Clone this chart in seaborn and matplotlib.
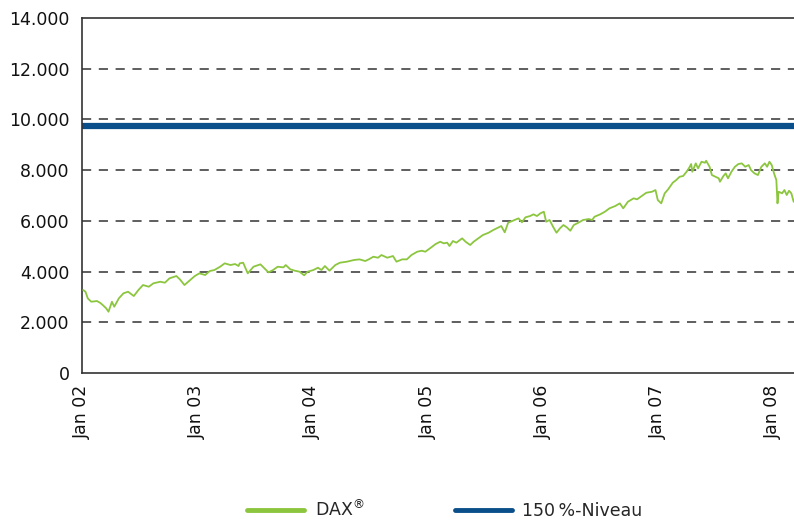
import pandas as pd
import numpy as np
import seaborn as sns
import matplotlib.dates as mdates
from matplotlib import pyplot as plt
from matplotlib.ticker import FuncFormatter

# DAX (decimal year, index points)
dax_years = [
    2002.01, 2002.03, 2002.05, 2002.08, 2002.13, 2002.16, 2002.18, 2002.21, 2002.23, 2002.26,
    2002.28, 2002.32, 2002.36, 2002.40, 2002.45, 2002.49, 2002.53, 2002.58, 2002.62, 2002.68,
    2002.72, 2002.76, 2002.82, 2002.85, 2002.89, 2002.94, 2002.98, 2003.02, 2003.07, 2003.11,
    2003.15, 2003.20, 2003.24, 2003.29, 2003.33, 2003.36, 2003.37, 2003.40, 2003.44, 2003.49,
    2003.55, 2003.62, 2003.66, 2003.70, 2003.75, 2003.77, 2003.81, 2003.85, 2003.89, 2003.93,
    2003.96, 2004.01, 2004.05, 2004.08, 2004.11, 2004.15, 2004.20, 2004.24, 2004.30, 2004.36,
    2004.41, 2004.46, 2004.49, 2004.53, 2004.57, 2004.60, 2004.65, 2004.70, 2004.73, 2004.78,
    2004.82, 2004.86, 2004.91, 2004.95, 2004.98, 2005.02, 2005.07, 2005.11, 2005.14, 2005.17,
    2005.19, 2005.22, 2005.25, 2005.30, 2005.33, 2005.37, 2005.40, 2005.44, 2005.48, 2005.53,
    2005.57, 2005.61, 2005.64, 2005.67, 2005.70, 2005.74, 2005.79, 2005.82, 2005.85, 2005.89,
    2005.92, 2005.95, 2005.98, 2006.01, 2006.03, 2006.06, 2006.09, 2006.12, 2006.15, 2006.18,
    2006.21, 2006.24, 2006.27, 2006.31, 2006.35, 2006.40, 2006.43, 2006.45, 2006.50, 2006.54,
    2006.58, 2006.63, 2006.67, 2006.70, 2006.74, 2006.79, 2006.82, 2006.86, 2006.90, 2006.95,
    2006.98, 2007.00, 2007.03, 2007.06, 2007.09, 2007.13, 2007.16, 2007.19, 2007.22, 2007.25,
    2007.27, 2007.29, 2007.30, 2007.33, 2007.35, 2007.38, 2007.41, 2007.42, 2007.45, 2007.47,
    2007.50, 2007.53, 2007.54, 2007.57, 2007.59, 2007.61, 2007.64, 2007.67, 2007.70, 2007.73,
    2007.76, 2007.79, 2007.81, 2007.84, 2007.87, 2007.90, 2007.93, 2007.95, 2007.97, 2007.99,
    2008.01, 2008.03, 2008.04, 2008.05, 2008.08, 2008.10, 2008.12, 2008.14, 2008.16, 2008.18,
]
dax_values = [
    3273, 3206, 2945, 2811, 2839, 2760, 2681, 2551, 2417, 2811,
    2614, 2945, 3143, 3206, 3036, 3273, 3470, 3403, 3537, 3600,
    3561, 3734, 3825, 3695, 3470, 3667, 3825, 3931, 3864, 4022,
    4061, 4192, 4325, 4258, 4298, 4219, 4325, 4350, 3931, 4192,
    4286, 3970, 4061, 4192, 4166, 4258, 4088, 4034, 3995, 3852,
    3995, 4061, 4153, 4061, 4219, 4034, 4258, 4350, 4390, 4455,
    4482, 4416, 4482, 4586, 4547, 4653, 4547, 4613, 4390, 4482,
    4482, 4653, 4783, 4823, 4783, 4915, 5087, 5178, 5113, 5140,
    5008, 5205, 5140, 5311, 5178, 5047, 5178, 5311, 5441, 5532,
    5638, 5729, 5796, 5547, 5927, 6006, 6100, 5942, 6140, 6190,
    6258, 6190, 6297, 6360, 5966, 6033, 5769, 5532, 5705, 5836,
    5745, 5611, 5836, 5927, 6033, 6072, 6033, 6163, 6258, 6360,
    6494, 6585, 6691, 6494, 6754, 6889, 6849, 6979, 7109, 7149,
    7216, 6822, 6691, 7086, 7244, 7504, 7610, 7740, 7768, 7937,
    8071, 8241, 7937, 8268, 8071, 8332, 8292, 8371, 8134, 7807,
    7740, 7677, 7543, 7768, 7874, 7677, 7937, 8134, 8241, 8268,
    8134, 8201, 8004, 7874, 7807, 8134, 8268, 8134, 8332, 8201,
    7874, 7610, 6691, 7149, 7086, 7216, 7019, 7188, 7086, 6754,
]
level_150 = 9740
x_start = "2002-01-01"
x_end = "2008-03-08"
y_ticks = [0, 2000, 4000, 6000, 8000, 10000, 12000, 14000]
dax_label = "DAX$^{\u00ae}$"
level_label = "150\u2009%-Niveau"

green = "#8cc63f"
blue = "#0b4f8a"


def year_to_date(y):
    yr = int(y)
    start = pd.Timestamp(year=yr, month=1, day=1)
    days = (pd.Timestamp(year=yr + 1, month=1, day=1) - start).days
    return start + pd.Timedelta(days=(y - yr) * days)


df = pd.DataFrame({"date": [year_to_date(y) for y in dax_years], "dax": dax_values})

sns.set_style("white")
plt.rcParams["font.family"] = ["DejaVu Sans"]

fig = plt.figure(figsize=(7.94, 5.25), dpi=100)
ax = fig.add_axes([0.1033, 0.2895, 0.8967, 0.6762])

# horizontal dashed grid
for v in y_ticks[1:-1]:
    ax.axhline(v, color="#333333", lw=1.1, ls=(0, (6, 5)), zorder=1)

ax.axhline(level_150, color=blue, lw=4.5, zorder=2, label=level_label)
sns.lineplot(data=df, x="date", y="dax", ax=ax, color=green, lw=1.3,
             label=dax_label, zorder=3, legend=False)

ax.set_xlim(pd.Timestamp(x_start), pd.Timestamp(x_end))
ax.set_ylim(0, 14000)
ax.set_yticks(y_ticks)
ax.yaxis.set_major_formatter(FuncFormatter(lambda v, p: f"{int(v):,}".replace(",", ".")))
ax.xaxis.set_major_locator(mdates.YearLocator())
ax.xaxis.set_major_formatter(mdates.DateFormatter("Jan %y"))
ax.set_xlabel("")
ax.set_ylabel("")

for s in ["left", "bottom", "top"]:
    ax.spines[s].set_color("#333333")
    ax.spines[s].set_linewidth(1.2)
ax.spines["right"].set_visible(False)

ax.tick_params(axis="both", direction="out", length=5, width=1.2, color="#333333",
               labelsize=12.5, labelcolor="#111111")
ax.tick_params(axis="y", pad=4)
plt.setp(ax.get_xticklabels(), rotation=90)

h, l = ax.get_legend_handles_labels()
order = [l.index(dax_label), l.index(level_label)]
leg = fig.legend([h[i] for i in order], [l[i] for i in order], loc="lower center",
                 bbox_to_anchor=(0.56, -0.02), ncol=2, frameon=False, fontsize=12.5,
                 handlelength=3.3, handletextpad=0.6, columnspacing=5.2)
for line in leg.get_lines():
    line.set_linewidth(3.5)

fig.savefig("out.png", dpi=100)
